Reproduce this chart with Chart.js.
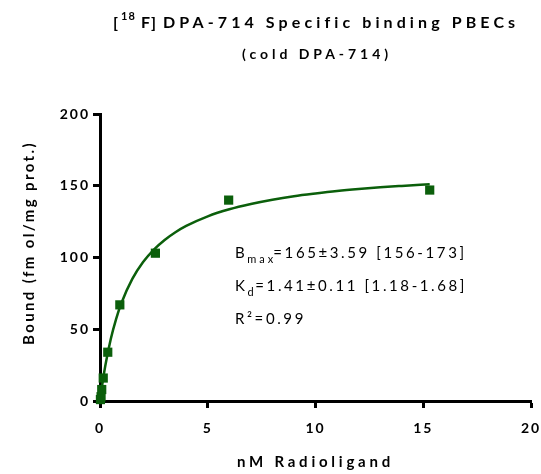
<!DOCTYPE html>
<html>
<head>
<meta charset="utf-8">
<script src="https://cdn.jsdelivr.net/npm/chart.js@4/dist/chart.umd.min.js"></script>
<style>
html,body{margin:0;padding:0;background:#fff;}
#wrap{width:541px;height:474px;}
</style>
</head>
<body>
<div id="wrap"><canvas id="c" width="541" height="474"></canvas></div>
<script>
// Measured points (nM radioligand, bound fmol/mg prot.)
const pointX = [0.02, 0.05, 0.08, 0.15, 0.36, 0.92, 2.57, 5.97, 15.3];
const pointY = [1, 3, 8, 16, 34, 67, 103, 140, 147];
// Fitted curve
const curveX = [0, 0.1, 0.25, 0.5, 0.75, 1, 1.5, 2, 2.5, 3, 3.5, 4, 5, 6, 7, 8, 9, 10, 11, 12, 13, 14, 15.3];
const curveY = [0, 10.9, 24.9, 43.2, 57.3, 68.5, 85.1, 96.8, 105.5, 112.2, 117.6, 122, 128.7, 133.6, 137.3, 140.3, 142.7, 144.6, 146.3, 147.7, 148.9, 149.9, 151.1];
const xTicks = [0, 5, 10, 15, 20];
const yTicks = [0, 50, 100, 150, 200];
const titleText = "DPA-714 Specific binding PBECs";
const subtitleText = "(cold DPA-714)";
const xTitle = "nM Radioligand";
const yTitle = "Bound (fm ol/mg prot.)";

const green = '#0b5f0b';
const FONT = 'Lato, "Open Sans", "DejaVu Sans", sans-serif';

function fitSpacing(ctx, text, target){
  ctx.letterSpacing = '0px';
  const w0 = ctx.measureText(text).width;
  return Math.max(0, (target - w0) / text.length);
}

const spacingPlugin = {
  id: 'spacing',
  beforeUpdate(chart){ chart.ctx.letterSpacing = '2px'; },
  beforeDraw(chart){ chart.ctx.letterSpacing = '2px'; },
  afterDraw(chart){
    const ctx = chart.ctx;
    ctx.save();
    ctx.fillStyle = '#000';
    ctx.textBaseline = 'alphabetic';
    ctx.textAlign = 'left';
    // Title
    const ty = 28;
    ctx.font = 'bold 16px ' + FONT;
    ctx.letterSpacing = '0px';
    ctx.fillText('[', 113, ty);
    ctx.font = 'bold 11px ' + FONT;
    ctx.letterSpacing = '1px';
    ctx.fillText('18', 121, ty - 8);
    ctx.font = 'bold 16px ' + FONT;
    ctx.letterSpacing = '1px';
    ctx.fillText('F]', 141, ty);
    ctx.letterSpacing = fitSpacing(ctx, titleText, 356) + 'px';
    ctx.fillText(titleText, 163, ty);
    // Subtitle
    ctx.font = 'bold 14px ' + FONT;
    ctx.letterSpacing = fitSpacing(ctx, subtitleText, 150) + 'px';
    ctx.fillText(subtitleText, 242, 59);
    // Axis titles
    ctx.font = 'bold 15px ' + FONT;
    ctx.letterSpacing = fitSpacing(ctx, xTitle, 157) + 'px';
    ctx.fillText(xTitle, 237, 467);
    ctx.save();
    ctx.translate(34, 345);
    ctx.rotate(-Math.PI/2);
    ctx.font = 'bold 15px ' + FONT;
    ctx.letterSpacing = fitSpacing(ctx, yTitle, 204) + 'px';
    ctx.fillText(yTitle, 0, 0);
    ctx.restore();
    // Annotations
    ctx.font = '15px ' + FONT;
    const as = 2.6;
    ctx.letterSpacing = as + 'px';
    let ax = 235, ay = 258;
    ctx.fillText('B', ax, ay);
    let w1 = ctx.measureText('B').width;
    ctx.font = '11px ' + FONT;
    ctx.letterSpacing = '3px';
    ctx.fillText('max', ax + w1, ay + 5);
    let mw = ctx.measureText('max').width;
    ctx.font = '15px ' + FONT;
    ctx.letterSpacing = as + 'px';
    ctx.fillText('=165\u00b13.59 [156-173]', ax + w1 + mw - 3, ay);
    ay = 291;
    ctx.fillText('K', ax, ay);
    let kw = ctx.measureText('K').width;
    ctx.font = '11px ' + FONT;
    ctx.fillText('d', ax + kw, ay + 5);
    let dw = ctx.measureText('d').width;
    ctx.font = '15px ' + FONT;
    ctx.fillText('=1.41\u00b10.11 [1.18-1.68]', ax + kw + dw - 1, ay);
    ay = 324;
    ctx.fillText('R\u00b2=0.99', ax, ay);
    ctx.restore();
  }
};

const ctx = document.getElementById('c').getContext('2d');
new Chart(ctx, {
  type: 'scatter',
  data: {
    datasets: [
      {
        type: 'line',
        data: curveX.map((v,i)=>({x:v, y:curveY[i]})),
        borderColor: green,
        borderWidth: 2.5,
        pointRadius: 0,
        cubicInterpolationMode: 'monotone',
        fill: false,
        order: 2
      },
      {
        type: 'scatter',
        data: pointX.map((v,i)=>({x:v, y:pointY[i]})),
        pointStyle: 'rect',
        pointRadius: 6.5,
        backgroundColor: green,
        borderColor: green,
        borderWidth: 0,
        clip: false,
        order: 1
      }
    ]
  },
  options: {
    responsive: false,
    animation: false,
    events: [],
    layout: { padding: { left: 0, right: 10, top: 114, bottom: 0 } },
    plugins: { legend: {display:false}, tooltip: {enabled:false} },
    scales: {
      x: {
        type: 'linear', min: 0, max: 20,
        afterBuildTicks(s){ s.ticks = xTicks.map(v=>({value:v})); },
        afterFit(s){ s.height = 73; s.paddingRight = 0; s.paddingLeft = 0; },
        border: { display: true, color: '#000', width: 3 },
        grid: { display: true, drawOnChartArea: false, drawTicks: true, tickLength: 7, tickWidth: 3, tickColor: '#000' },
        ticks: { color: '#000', font: { family: FONT, weight: 'bold', size: 14 }, padding: 12, maxRotation: 0 },
        title: { display: false }
      },
      y: {
        type: 'linear', min: 0, max: 200,
        afterBuildTicks(s){ s.ticks = yTicks.map(v=>({value:v})); },
        afterFit(s){ s.width = 100; s.paddingTop = 0; s.paddingBottom = 0; },
        border: { display: true, color: '#000', width: 3 },
        grid: { display: true, drawOnChartArea: false, drawTicks: true, tickLength: 7, tickWidth: 3, tickColor: '#000' },
        ticks: { color: '#000', font: { family: FONT, weight: 'bold', size: 14 }, padding: 3 },
        title: { display: false }
      }
    }
  },
  plugins: [spacingPlugin]
});
</script>
</body>
</html>
